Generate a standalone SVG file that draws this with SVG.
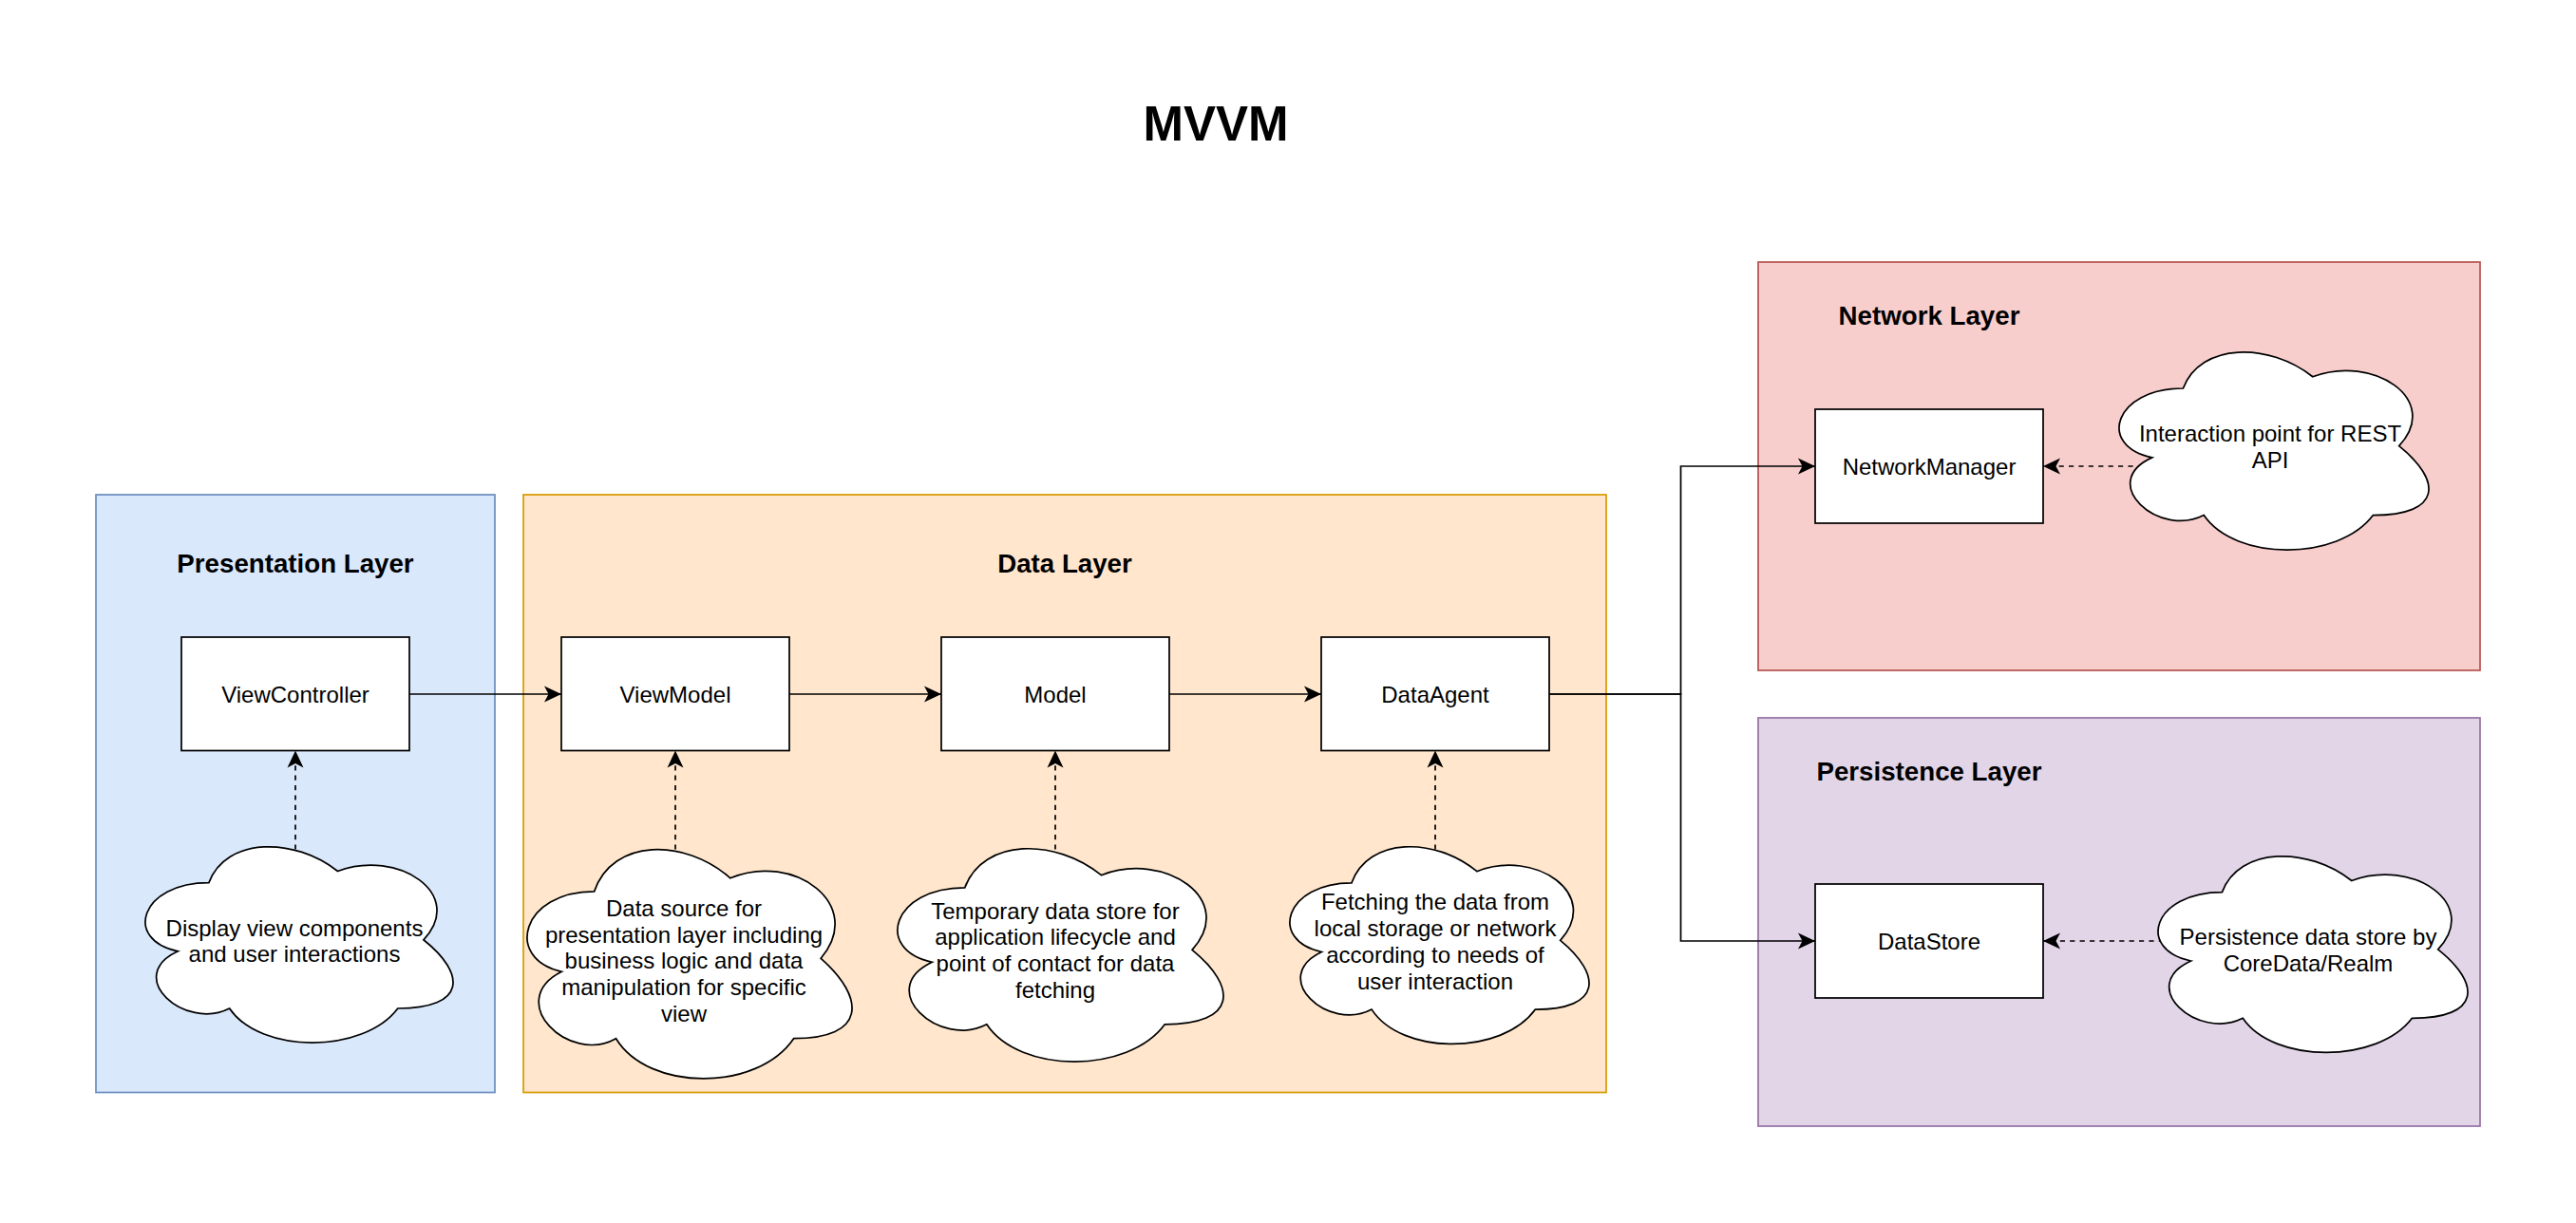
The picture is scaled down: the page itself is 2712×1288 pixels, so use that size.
<svg xmlns="http://www.w3.org/2000/svg" width="2712" height="1288" viewBox="0 0 2712 1288">
<defs>
<style>
text{font-family:"Liberation Sans",Arial,Helvetica,sans-serif;fill:#000}
.title{font-size:51px;font-weight:bold}
.layer{font-size:27.7px;font-weight:bold}
.lbl{font-size:24px}
.box{fill:#fff;stroke:#000;stroke-width:1.73}
.cloud{fill:#fff;stroke:#000;stroke-width:1.73}
.edge{fill:none;stroke:#000;stroke-width:1.73}
.dash{stroke-dasharray:5.2 5.2}
</style>
<marker id="arr" markerUnits="userSpaceOnUse" markerWidth="20" markerHeight="20" refX="18" refY="9" orient="auto" viewBox="0 0 20 18">
<path d="M0,0.5 L18,9 L0,17.5 L4.5,9 Z" fill="#000" stroke="none"/>
</marker>
</defs>
<rect width="2712" height="1288" fill="#fff"/>
<text class="title" x="1280" y="148" text-anchor="middle">MVVM</text>

<g id="presentation-layer">
<rect x="101" y="521" width="420" height="629.5" fill="#dae8fc" stroke="#6c8ebf" stroke-width="1.73"/>
<text class="layer" x="311" y="603" text-anchor="middle">Presentation Layer</text>
</g>
<g id="data-layer">
<rect x="551" y="521" width="1140" height="629.5" fill="#ffe6cc" stroke="#d79b00" stroke-width="1.73"/>
<text class="layer" x="1121" y="603" text-anchor="middle">Data Layer</text>
</g>
<g id="network-layer">
<rect x="1851" y="276" width="760" height="430" fill="#f8cecc" stroke="#b85450" stroke-width="1.73"/>
<text class="layer" x="2031" y="341.7" text-anchor="middle">Network Layer</text>
</g>
<g id="persistence-layer">
<rect x="1851" y="756" width="760" height="430" fill="#e1d5e7" stroke="#9673a6" stroke-width="1.73"/>
<text class="layer" x="2031" y="821.7" text-anchor="middle">Persistence Layer</text>
</g>

<g id="connectors">
<path class="edge" d="M431,731 H591" marker-end="url(#arr)"/>
<path class="edge" d="M831,731 H991" marker-end="url(#arr)"/>
<path class="edge" d="M1231,731 H1391" marker-end="url(#arr)"/>
<path class="edge" d="M1631,731 H1769.5 V491 H1911" marker-end="url(#arr)"/>
<path class="edge" d="M1631,731 H1769.5 V991 H1911" marker-end="url(#arr)"/>
<path class="edge dash" d="M311,905 V790.5" marker-end="url(#arr)"/>
<path class="edge dash" d="M711,905 V790.5" marker-end="url(#arr)"/>
<path class="edge dash" d="M1111,905 V790.5" marker-end="url(#arr)"/>
<path class="edge dash" d="M1511,905 V790.5" marker-end="url(#arr)"/>
<path class="edge dash" d="M2256,491 H2151" marker-end="url(#arr)"/>
<path class="edge dash" d="M2278,991 H2151" marker-end="url(#arr)"/>
</g>

<g id="viewcontroller">
<rect class="box" x="191" y="671" width="240" height="119.5"/>
<text class="lbl" x="311" y="740" text-anchor="middle">ViewController</text>
</g>
<g id="viewmodel">
<rect class="box" x="591" y="671" width="240" height="119.5"/>
<text class="lbl" x="711" y="740" text-anchor="middle">ViewModel</text>
</g>
<g id="model">
<rect class="box" x="991" y="671" width="240" height="119.5"/>
<text class="lbl" x="1111" y="740" text-anchor="middle">Model</text>
</g>
<g id="dataagent">
<rect class="box" x="1391" y="671" width="240" height="119.5"/>
<text class="lbl" x="1511" y="740" text-anchor="middle">DataAgent</text>
</g>
<g id="networkmanager">
<rect class="box" x="1911" y="431" width="240" height="120"/>
<text class="lbl" x="2031" y="500" text-anchor="middle">NetworkManager</text>
</g>
<g id="datastore">
<rect class="box" x="1911" y="931" width="240" height="120"/>
<text class="lbl" x="2031" y="1000" text-anchor="middle">DataStore</text>
</g>

<g id="cloud-view">
<path class="cloud" d="M219.9,929.6 C147.6,929.6 129.5,989.8 187.4,1001.8 C129.5,1028.3 194.6,1086.0 241.6,1062.0 C274.1,1110.1 382.6,1110.1 418.8,1062.0 C491.1,1062.0 491.1,1025.9 445.9,989.8 C491.1,941.6 418.8,893.5 355.5,917.5 C310.3,881.4 238.0,881.4 219.9,929.6 Z"/>
<text class="lbl" text-anchor="middle"><tspan x="310" y="985.7">Display view components</tspan><tspan x="310" y="1013.4">and user interactions</tspan></text>
</g>
<g id="cloud-viewmodel">
<path class="cloud" d="M625.6,938.9 C549.3,938.9 530.2,1009.3 591.3,1023.3 C530.2,1054.3 598.9,1121.9 648.5,1093.7 C682.9,1150.0 797.4,1150.0 835.6,1093.7 C911.9,1093.7 911.9,1051.5 864.2,1009.3 C911.9,953.0 835.6,896.7 768.8,924.8 C721.1,882.6 644.7,882.6 625.6,938.9 Z"/>
<text class="lbl" text-anchor="middle"><tspan x="720" y="965">Data source for</tspan><tspan x="720" y="992.7">presentation layer including</tspan><tspan x="720" y="1020.4">business logic and data</tspan><tspan x="720" y="1048.1">manipulation for specific</tspan><tspan x="720" y="1075.8">view</tspan></text>
</g>
<g id="cloud-model">
<path class="cloud" d="M1015.8,934.8 C939.2,934.8 920.1,1000.3 981.3,1013.3 C920.1,1042.1 989.0,1104.9 1038.8,1078.8 C1073.2,1131.1 1188.1,1131.1 1226.3,1078.8 C1302.9,1078.8 1302.9,1039.5 1255.1,1000.3 C1302.9,947.9 1226.3,895.6 1159.4,921.7 C1111.5,882.5 1034.9,882.5 1015.8,934.8 Z"/>
<text class="lbl" text-anchor="middle"><tspan x="1111" y="967.5">Temporary data store for</tspan><tspan x="1111" y="995.2">application lifecycle and</tspan><tspan x="1111" y="1022.9">point of contact for data</tspan><tspan x="1111" y="1050.6">fetching</tspan></text>
</g>
<g id="cloud-dataagent">
<path class="cloud" d="M1423.0,929.8 C1352.7,929.8 1335.1,990.4 1391.4,1002.5 C1335.1,1029.2 1398.4,1087.4 1444.1,1063.1 C1475.7,1111.6 1581.2,1111.6 1616.4,1063.1 C1686.7,1063.1 1686.7,1026.8 1642.7,990.4 C1686.7,941.9 1616.4,893.4 1554.9,917.7 C1510.9,881.3 1440.6,881.3 1423.0,929.8 Z"/>
<text class="lbl" text-anchor="middle"><tspan x="1511" y="958.4">Fetching the data from</tspan><tspan x="1511" y="986.1">local storage or network</tspan><tspan x="1511" y="1013.8">according to needs of</tspan><tspan x="1511" y="1041.5">user interaction</tspan></text>
</g>
<g id="cloud-network">
<path class="cloud" d="M2298.4,409.0 C2225.6,409.0 2207.4,469.7 2265.6,481.9 C2207.4,508.6 2272.9,566.9 2320.2,542.6 C2352.9,591.2 2462.1,591.2 2498.4,542.6 C2571.2,542.6 2571.2,506.2 2525.7,469.7 C2571.2,421.1 2498.4,372.5 2434.8,396.8 C2389.3,360.4 2316.5,360.4 2298.4,409.0 Z"/>
<text class="lbl" text-anchor="middle"><tspan x="2390" y="465">Interaction point for REST</tspan><tspan x="2390" y="492.7">API</tspan></text>
</g>
<g id="cloud-persistence">
<path class="cloud" d="M2339.4,939.6 C2266.6,939.6 2248.4,999.9 2306.6,1012.0 C2248.4,1038.5 2313.9,1096.4 2361.2,1072.3 C2393.9,1120.5 2503.1,1120.5 2539.4,1072.3 C2612.2,1072.3 2612.2,1036.1 2566.7,999.9 C2612.2,951.7 2539.4,903.4 2475.8,927.5 C2430.3,891.4 2357.5,891.4 2339.4,939.6 Z"/>
<text class="lbl" text-anchor="middle"><tspan x="2430" y="995">Persistence data store by</tspan><tspan x="2430" y="1022.7">CoreData/Realm</tspan></text>
</g>
</svg>
